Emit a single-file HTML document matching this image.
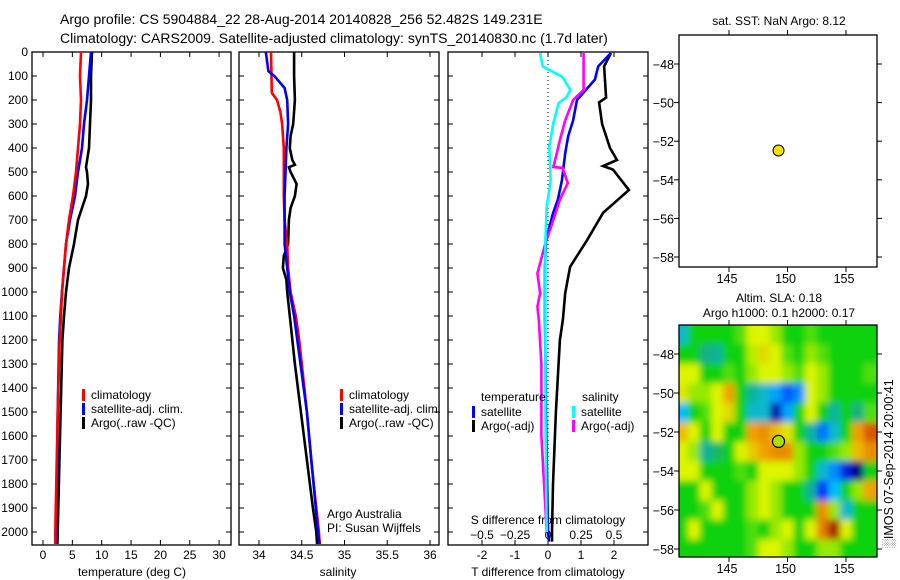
<!DOCTYPE html>
<html><head><meta charset="utf-8"><style>
body{margin:0;background:#fff;}
svg{display:block;font-family:"Liberation Sans",sans-serif;}
text{fill:#000;}
</style></head><body>
<svg id="c" width="900" height="580" viewBox="0 0 900 580" xmlns="http://www.w3.org/2000/svg">
<defs>
<clipPath id="cp1"><rect x="32" y="52" width="199" height="493"/></clipPath>
<clipPath id="cp2"><rect x="239" y="52" width="200" height="493"/></clipPath>
<clipPath id="cp3"><rect x="448" y="52" width="200" height="493"/></clipPath>
<clipPath id="cpm"><rect x="679" y="325" width="198" height="232"/></clipPath>
<filter id="blur" x="-5%" y="-5%" width="110%" height="110%"><feGaussianBlur stdDeviation="3.5"/></filter>
</defs>
<text x="60" y="24" font-size="14">Argo profile: CS 5904884_22 28-Aug-2014 20140828_256 52.482S 149.231E</text>
<text x="60" y="43" font-size="14">Climatology: CARS2009. Satellite-adjusted climatology: synTS_20140830.nc (1.7d later)</text>
<g id="g"></g>
</svg>
<script>
// ---- data ----
const tempClimDepth=[0,100,200,300,400,500,600,700,800,900,1000,1100,1200,1500,2000,2050];
const tempClim=[6.47,6.30,6.47,6.30,5.96,5.62,5.11,4.43,3.92,3.58,3.24,3.07,2.85,2.5,2.1,2.1];
const tempSatDepth=[0,100,200,300,400,500,600,700,800,900,1000,1100,1200,1500,2000,2050];
const tempSat=[8.18,7.84,7.50,6.98,6.64,5.96,5.45,4.60,3.92,3.58,3.24,2.95,2.75,2.5,2.3,2.3];
const tempArgoDepth=[0,100,200,300,400,480,500,550,600,650,700,800,900,1000,1100,1200,1500,2000,2050];
const tempArgo=[8.35,8.18,8.18,8.01,7.84,7.33,7.50,7.67,7.33,6.64,5.96,5.28,4.43,3.92,3.58,3.30,3.0,2.5,2.45];
const salClimDepth=[0,170,200,250,300,400,600,700,800,900,1000,1100,1200,1300,1500,1700,1900,2000,2050];
const salClim=[34.14,34.15,34.21,34.25,34.27,34.29,34.29,34.30,34.33,34.34,34.37,34.43,34.47,34.50,34.56,34.61,34.67,34.70,34.71];
const salSatDepth=[0,80,100,150,200,300,400,600,800,900,1000,1100,1500,2000,2050];
const salSat=[34.08,34.11,34.18,34.30,34.33,34.34,34.32,34.30,34.30,34.33,34.36,34.41,34.56,34.69,34.71];
const salArgoDepth=[0,100,200,300,350,400,450,470,480,500,550,600,650,700,800,850,900,950,1000,1100,1300,1500,1700,1900,2000,2050];
const salArgo=[34.41,34.41,34.42,34.40,34.37,34.36,34.39,34.42,34.35,34.37,34.44,34.42,34.37,34.35,34.34,34.29,34.28,34.32,34.33,34.36,34.42,34.49,34.56,34.63,34.67,34.68];
const tdArgoDepth=[4,60,190,210,300,400,450,475,490,575,670,785,895,1005,1115,1200,1500,1800,2000,2040];
const tdArgo=[1.91,1.70,1.76,1.55,1.64,1.88,2.09,1.67,1.97,2.45,1.67,1.18,0.67,0.52,0.45,0.36,0.24,0.15,0.12,0.12];
const tdSatDepth=[4,60,115,200,285,352,422,535,615,672,785,895,1115,1500,2000,2040];
const tdSat=[1.91,1.52,1.42,0.88,0.76,0.61,0.52,0.42,0.30,0.15,-0.06,-0.09,-0.09,-0.06,0,0.03];
const sdArgoDepth=[4,158,200,285,367,437,479,483,546,615,700,797,922,1005,1061,1115,1300,1600,1900,2000];
const sdArgo=[0.27,0.27,0.19,0.13,0.09,0.06,0.04,0.11,0.15,0.09,0.04,-0.02,-0.08,-0.06,-0.08,-0.07,-0.05,-0.05,-0.02,-0.01];
const sdSatDepth=[4,60,104,158,188,213,297,394,535,645,785,922,1115,1500,2000];
const sdSat=[-0.06,-0.04,0.11,0.17,0.14,0.08,0.04,0.01,0.02,-0.01,-0.02,-0.02,-0.02,-0.02,-0.01];
const depthTicks=[0,100,200,300,400,500,600,700,800,900,1000,1100,1200,1300,1400,1500,1600,1700,1800,1900,2000];
const tempTicks=[0,5,10,15,20,25,30];
const salTicks=[34,34.5,35,35.5,36];
const tdTicks=[-2,-1,0,1,2];
const sdTicks=[-0.5,-0.25,0,0.25,0.5];
const latTicks=[-48,-50,-52,-54,-56,-58];
const lonTicks=[145,150,155];
const argoLon=149.231, argoLat=-52.482;
const slaLons=[141,142,143,144,145,146,147,148,149,150,151,152,153,154,155,156,157];
const slaLats=[-47,-48,-49,-50,-51,-52,-53,-54,-55,-56,-57,-58];
const slaRow0=[-0.35,0,0,0,0,0.1,0.3,0.3,0.2,0,0,0.1,0,0,0,0,0];
const slaRow1=[0,0,-0.2,-0.25,0,0,0.25,0.4,0.3,0.1,0,0.2,0.1,0,0,0,0];
const slaRow2=[0.3,0.3,0,0,0.1,0,0.2,0.3,0.3,0.2,0.1,0.3,0.2,0,0,0,0.1];
const slaRow3=[0.35,0.2,0.2,0.3,0.6,0,-0.25,-0.35,-0.5,-0.65,-0.55,0.3,0.2,0,0,0,0];
const slaRow4=[-0.45,0,0.1,0.3,0.4,0,-0.35,-0.35,-0.9,-0.5,0,0.3,0,-0.25,0,-0.2,0.1];
const slaRow5=[0.5,0.3,0,0.3,0,0,0.6,0.65,0.5,0.35,0,-0.25,-0.6,-0.35,0,0.6,0.8];
const slaRow6=[0.3,0.2,-0.25,-0.15,0,0.3,0.45,0.6,0.65,0.65,0.2,0,0,0.1,0.2,0.5,0.65];
const slaRow7=[0.3,0.3,0,0,0,0.1,0,0.3,0.3,0.3,0.2,0,-0.35,-0.55,-0.8,-1,0];
const slaRow8=[0,0,0.3,0,0,0,0.2,0.3,0.2,0,0,-0.25,-0.75,-0.45,0,0.2,0.6];
const slaRow9=[0,0,0.1,0.3,0,0,0.2,0.3,0.2,0,0,0,0.65,0.2,-0.35,0,0];
const slaRow10=[0,0.3,0,0,0,0,0.1,0,0.2,0.3,0,0.3,0.7,0.95,0.3,0,0];
const slaRow11=[0,0,0,0,0,0,0.1,0.3,0.3,0.2,0,0,0.2,0.2,0,0,0];
const slaGrid=[slaRow0,slaRow1,slaRow2,slaRow3,slaRow4,slaRow5,slaRow6,slaRow7,slaRow8,slaRow9,slaRow10,slaRow11];

// ---- scales ----
const yD=d=>52+0.24*d;
const xT=t=>43+5.87*t;
const xS=s=>259+85.5*(s-34);
const xTD=t=>548+33*t;
const xSD=s=>548+132*s;
const lonX=l=>729+(l-145)*11.7;
const lat1Y=la=>64+(-48-la)*19.3;
const lat2Y=la=>354+(-48-la)*19.5;

const NS="http://www.w3.org/2000/svg";
const G=document.getElementById('g');
function mk(tag,attrs,parent){const e=document.createElementNS(NS,tag);for(const k in attrs)e.setAttribute(k,attrs[k]);(parent||G).appendChild(e);return e;}
function txt(x,y,s,anchor,size){const e=mk('text',{x:x,y:y,'font-size':size||12,'text-anchor':anchor||'start'});e.textContent=s;return e;}

// frames
[[32,231],[239,439],[448,648]].forEach((p,i)=>{
 const r=mk('rect',{x:p[0],y:52,width:p[1]-p[0],height:493,fill:'none',stroke:'#000','stroke-width':1.3});
 
 
 depthTicks.forEach(d=>{
  mk('line',{x1:p[0],x2:p[0]+5,y1:yD(d),y2:yD(d),stroke:'#000'});
  mk('line',{x1:p[1]-5,x2:p[1],y1:yD(d),y2:yD(d),stroke:'#000'});
 });
});
depthTicks.forEach(d=>{const t=txt(28,yD(d)+4,String(d),'end');
 
 });
function xticks(arr,f,labY,topTick,botTick,fmt){arr.forEach(v=>{const x=f(v);
 if(topTick)mk('line',{x1:x,x2:x,y1:52,y2:57,stroke:'#000'});
 if(botTick)mk('line',{x1:x,x2:x,y1:540,y2:545,stroke:'#000'});
 const t=txt(x,labY,fmt?fmt(v):String(v),'middle');
 
 });}
xticks(tempTicks,xT,559,true,true);
xticks(salTicks,xS,559,true,true);
xticks(tdTicks,xTD,559,true,true);
xticks(sdTicks,xSD,539,false,true,v=>v===0?'0':String(v).replace('-','\u2212'));
let t;
t=txt(132,576,'temperature (deg C)','middle');
t=txt(338,576,'salinity','middle');
t=txt(548,576,'T difference from climatology','middle');
t=txt(548,524,'S difference from climatology','middle');
const zl=mk('line',{x1:xTD(0),x2:xTD(0),y1:52,y2:545,stroke:'#000','stroke-dasharray':'1,3'});


function series(depths,vals,fx,color,clip,name){
 let d='';depths.forEach((z,i)=>{d+=(i?'L':'M')+fx(vals[i]).toFixed(1)+','+yD(z).toFixed(1);});
 const p=mk('path',{d:d,fill:'none',stroke:color,'stroke-width':2.6,'clip-path':'url(#'+clip+')'});
 
 
}
series(tempArgoDepth,tempArgo,xT,'#000','cp1','temp-argo-line');
series(tempSatDepth,tempSat,xT,'#0000ff','cp1','temp-satellite-line');
series(tempClimDepth,tempClim,xT,'#ff0000','cp1','temp-climatology-line');
series(salArgoDepth,salArgo,xS,'#000','cp2','sal-argo-line');
series(salClimDepth,salClim,xS,'#ff0000','cp2','sal-climatology-line');
series(salSatDepth,salSat,xS,'#0000ff','cp2','sal-satellite-line');
series(tdArgoDepth,tdArgo,xTD,'#000','cp3','tdiff-argo-line');
series(tdSatDepth,tdSat,xTD,'#0000ff','cp3','tdiff-satellite-line');
series(sdArgoDepth,sdArgo,xSD,'#ff00ff','cp3','sdiff-argo-line');
series(sdSatDepth,sdSat,xSD,'#00ffff','cp3','sdiff-satellite-line');

function legend(x,y,color,label){mk('rect',{x:x,y:y-9,width:3,height:12,fill:color});
 const e=txt(x+9,y+1,label);}
[[82],[340]].forEach(p=>{legend(p[0],398,'#ff0000','climatology');legend(p[0],412,'#0000ff','satellite-adj. clim.');legend(p[0],426,'#000','Argo(..raw -QC)');});
t=txt(481,401,'temperature');
t=txt(582,401,'salinity');
legend(472,415,'#0000ff','satellite');legend(472,429,'#000','Argo(-adj)');
legend(572,415,'#00ffff','satellite');legend(572,429,'#ff00ff','Argo(-adj)');
t=txt(327,518,'Argo Australia');
t=txt(327,532,'PI: Susan Wijffels');

// ---- maps ----
function cmap(v){const st=[[-1,[0,0,120]],[-0.75,[0,40,255]],[-0.45,[0,190,255]],[-0.2,[20,175,130]],[0,[10,210,10]],[0.3,[220,245,0]],[0.6,[240,160,0]],[0.85,[210,70,0]],[1,[140,0,0]]];
 v=Math.max(-1,Math.min(1,v));for(let i=1;i<st.length;i++){if(v<=st[i][0]){const a=st[i-1],b=st[i],f=(v-a[0])/(b[0]-a[0]);return 'rgb('+a[1].map((c,k)=>Math.round(c+(b[1][k]-c)*f)).join(',')+')';}}return 'rgb(140,0,0)';}
const hg=mk('g',{'clip-path':'url(#cpm)'});

mk('rect',{x:679,y:325,width:198,height:232,fill:cmap(0)},hg);
const hb=mk('g',{filter:'url(#blur)'},hg);
slaLats.forEach((la,r)=>slaLons.forEach((lo,c)=>{
 const x=lonX(lo-0.5),y=lat2Y(la+0.5),w=lonX(lo+0.5)-x,h=lat2Y(la-0.5)-y;
 const ex=(c===0?-12:0),ew=(c===0||c===slaLons.length-1?12:0),ey=(r===0?-14:0),eh=(r===0||r===slaLats.length-1?14:0);
 const cell=mk('rect',{x:(x+ex).toFixed(1),y:(y+ey).toFixed(1),width:(w+ew+0.5).toFixed(1),height:(h+eh+0.5).toFixed(1),fill:cmap(slaGrid[r][c])},hb);
 
 
}));
function mapFrame(top,bot,latY,name){
 const r=mk('rect',{x:679,y:top,width:198,height:bot-top,fill:'none',stroke:'#000','stroke-width':1.3});
 
 latTicks.forEach(la=>{const y=latY(la);mk('line',{x1:679,x2:674,y1:y,y2:y,stroke:'#000'});mk('line',{x1:877,x2:882,y1:y,y2:y,stroke:'#000'});
  const e=txt(674,y+5,'\u2212'+Math.abs(la),'end',12.5);});
 lonTicks.forEach(lo=>{const x=lonX(lo);mk('line',{x1:x,x2:x,y1:top,y2:top-5,stroke:'#000'});mk('line',{x1:x,x2:x,y1:bot,y2:bot+5,stroke:'#000'});
  const e=txt(x-2,bot+16,String(lo),'middle',12.5);});
}
mapFrame(35,267,lat1Y,'sst-map-panel');
mapFrame(325,557,lat2Y,'sla-map-panel');
let dot=mk('circle',{cx:lonX(argoLon),cy:lat1Y(argoLat),r:5.5,fill:'#f5e000',stroke:'#000','stroke-width':1});

dot=mk('circle',{cx:lonX(argoLon),cy:lat2Y(argoLat),r:6,fill:'#a8e000',stroke:'#000','stroke-width':1.2});

t=txt(779,25,'sat. SST: NaN Argo: 8.12','middle');
t=txt(779,302,'Altim. SLA: 0.18','middle');
t=txt(779,317,'Argo h1000: 0.1 h2000: 0.17','middle');
t=txt(0,0,'\u2591IMOS 07-Sep-2014 20:00:41','start',12.5);t.setAttribute('transform','translate(893,548) rotate(-90)');

</script>
</body></html>
